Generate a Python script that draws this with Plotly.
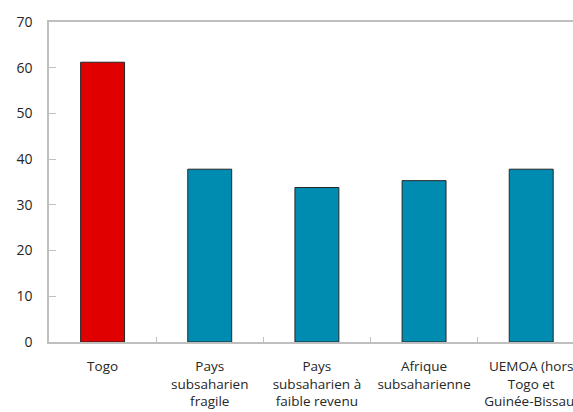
import plotly.graph_objects as go

# Categories (multi-line tick labels) and values
categories = [
    "Togo",
    "Pays<br>subsaharien<br>fragile",
    "Pays<br>subsaharien à<br>faible revenu",
    "Afrique<br>subsaharienne",
    "UEMOA (hors<br>Togo et<br>Guinée-Bissau)",
]
values = [61.2, 37.8, 33.8, 35.3, 37.8]
bar_colors = ["#e00000", "#008bb0", "#008bb0", "#008bb0", "#008bb0"]

y_ticks = [0, 10, 20, 30, 40, 50, 60, 70]

fig = go.Figure(
    go.Bar(
        x=categories,
        y=values,
        marker=dict(color=bar_colors, line=dict(color="#262626", width=1)),
        width=0.41,
        hoverinfo="x+y",
    )
)

axis_grey = "#bfbfbf"
font_family = "Open Sans, Noto Sans, sans-serif"

fig.update_layout(
    width=573,
    height=412,
    margin=dict(l=49, r=0, t=22, b=70, autoexpand=False),
    paper_bgcolor="white",
    plot_bgcolor="white",
    showlegend=False,
    font=dict(family=font_family, size=13, color="#262626"),
    xaxis=dict(
        type="category",
        range=[-0.5, 4.39],
        automargin=False,
        showline=True,
        linecolor=axis_grey,
        linewidth=1.5,
        mirror=True,
        ticks="inside",
        tickson="boundaries",
        ticklen=5,
        tickcolor=axis_grey,
        tickfont=dict(size=13.5),
        ticklabelstandoff=11,
        showgrid=False,
        zeroline=False,
        fixedrange=True,
    ),
    yaxis=dict(
        range=[0, 70],
        tickvals=y_ticks,
        automargin=False,
        showline=True,
        linecolor=axis_grey,
        linewidth=1.5,
        ticks="inside",
        ticklen=7,
        tickcolor=axis_grey,
        tickfont=dict(size=14),
        ticklabelstandoff=12,
        showgrid=False,
        zeroline=False,
        fixedrange=True,
    ),
)

fig.write_html("out.html")
